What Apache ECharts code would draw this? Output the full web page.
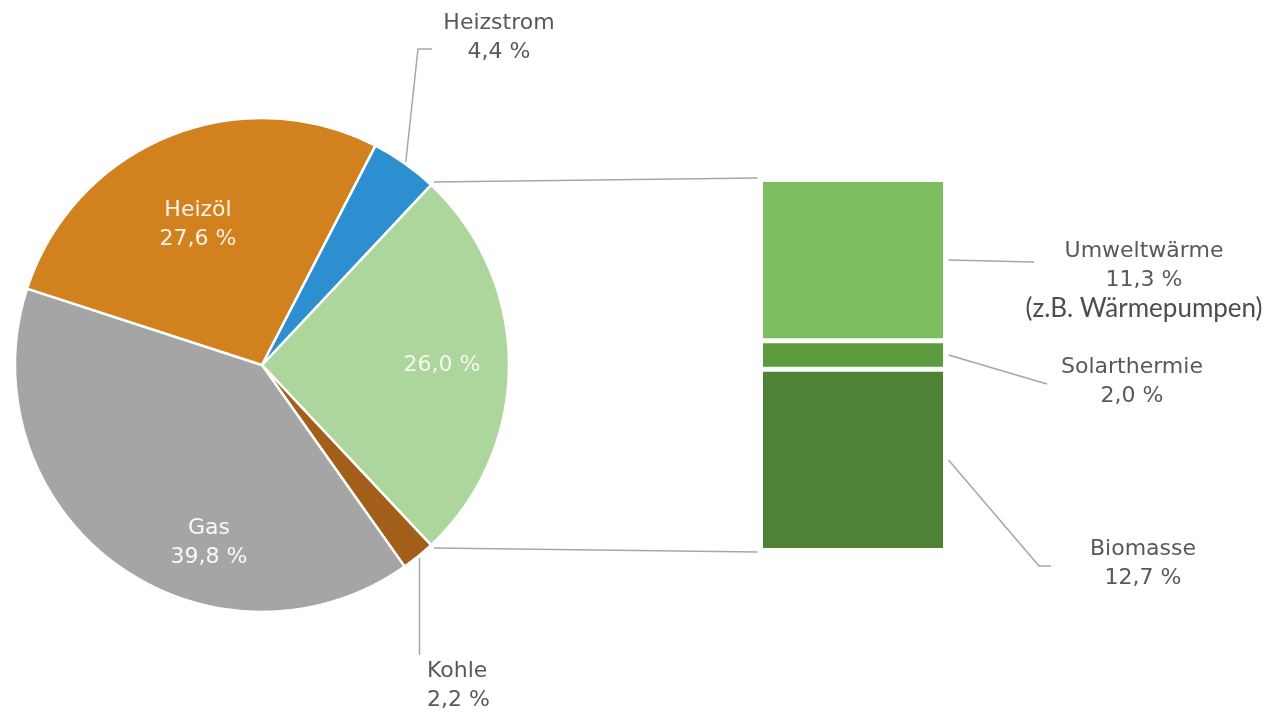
<!DOCTYPE html>
<html>
<head>
<meta charset="utf-8">
<script src="https://cdn.jsdelivr.net/npm/echarts@6/dist/echarts.min.js"></script>
<style>
  html, body { margin: 0; padding: 0; background: #ffffff; }
  #chart { width: 1269px; height: 712px; }
</style>
</head>
<body>
<div id="chart"></div>
<script>
// Energieträger für Wärme – Anteile in %
const pieNames = ['Erneuerbare Energien', 'Kohle', 'Gas', 'Heizöl', 'Heizstrom'];
const pieValues = [26.0, 2.2, 39.8, 27.6, 4.4];
const pieShowName = [false, true, true, true, true];

// Aufteilung der erneuerbaren Energien (gestapelt, von unten nach oben)
const barNames = ['Biomasse', 'Solarthermie', 'Umweltwärme'];
const barValues = [12.7, 2.0, 11.3];
const barNotes = ['', '', '(z.B. Wärmepumpen)'];

// Styles
const pieColors = ['#ADD69D', '#A35F1A', '#A5A5A5', '#D2811F', '#2E8FD0'];
const pieLabelColors = ['#F4F8F0', '#595959', '#FAFAFA', '#FBF3E8', '#595959'];
const barColors = ['#4E8235', '#5C9B3E', '#7CBD5F'];
const TEXT = '#595959';
const LINE = '#A6A6A6';
const FONT = 'DejaVu Sans';

// Layout
const PIE_C = [262, 365];
const PIE_R = 247;
const BAR = { left: 760.5, top: 179.5, width: 185, height: 371 };

const pieLabelPos = [
  [442, 365, 'center'],   // Erneuerbare
  [427, 686, 'left'],     // Kohle
  [209, 543, 'center'],   // Gas
  [198, 225, 'center'],   // Heizöl
  [499, 38, 'center']     // Heizstrom
];
const pieLeaderRest = [
  null,
  [[null, 655]],                 // Kohle: senkrecht nach unten
  null,
  null,
  [[418, 49], [432, 49]]         // Heizstrom
];
const barLabelPos = [[1143, 564], [1132, 382], [1144, 280]];
const barLeaderRest = [
  [[1039, 566], [1051, 566]],
  [[1047, 384]],
  [[1034, 262]]
];

const fmt = v => v.toFixed(1).replace('.', ',') + ' %';
const total = pieValues.reduce((a, b) => a + b, 0);
const barTotal = barValues.reduce((a, b) => a + b, 0);
// Erneuerbare symmetrisch um die Horizontale legen
const startAngle = pieValues[0] / total * 360 / 2;

const chart = echarts.init(document.getElementById('chart'), null, { renderer: 'canvas' });

const pieData = pieNames.map((n, i) => ({
  name: n,
  value: pieValues[i],
  itemStyle: { color: pieColors[i] },
  label: { color: pieLabelColors[i] }
}));

const barSeries = barNames.map((n, i) => ({
  type: 'bar',
  name: n,
  stack: 'ee',
  xAxisIndex: 0,
  yAxisIndex: 0,
  barWidth: '100%',
  data: [barValues[i]],
  itemStyle: { color: barColors[i], borderColor: '#ffffff', borderWidth: 2.5 },
  label: {
    show: true,
    position: 'right',
    formatter: p => '{a|' + p.seriesName + '}\n{a|' + fmt(p.value) + '}' +
      (barNotes[i] ? '\n{b|' + barNotes[i] + '}' : ''),
    rich: {
      a: { fontFamily: FONT, fontSize: 22, color: TEXT, lineHeight: 29, align: 'center' },
      b: { fontFamily: 'Lato', fontSize: 26, color: '#4D4D4D', lineHeight: 29, align: 'center' }
    }
  },
  labelLayout: () => ({
    x: barLabelPos[i][0], y: barLabelPos[i][1],
    align: 'center', verticalAlign: 'middle'
  })
}));

chart.setOption({
  animation: false,
  backgroundColor: '#ffffff',
  grid: { left: BAR.left, top: BAR.top, width: BAR.width, height: BAR.height },
  xAxis: { type: 'category', data: ['EE'], show: false },
  yAxis: { type: 'value', min: 0, max: barTotal, show: false },
  series: [
    {
      type: 'pie',
      center: PIE_C,
      radius: PIE_R,
      startAngle: startAngle,
      clockwise: true,
      data: pieData,
      itemStyle: { borderColor: '#ffffff', borderWidth: 2.5 },
      label: {
        show: true,
        position: 'inside',
        fontFamily: FONT,
        fontSize: 22,
        lineHeight: 29,
        formatter: p => (pieShowName[p.dataIndex] ? p.name + '\n' : '') + fmt(p.value)
      },
      labelLine: { show: false },
      labelLayout: p => {
        const pos = pieLabelPos[p.dataIndex];
        return { x: pos[0], y: pos[1], align: pos[2], verticalAlign: 'middle' };
      },
      emphasis: { disabled: true }
    }
  ].concat(barSeries)
});

// Verbindungs- und Hinweislinien
const lines = [];
const poly = pts => ({
  type: 'polyline',
  silent: true,
  shape: { points: pts },
  style: { stroke: LINE, lineWidth: 1.5, fill: null }
});
const rad = d => d * Math.PI / 180;
const onPie = (angle, r) => [PIE_C[0] + r * Math.cos(rad(angle)), PIE_C[1] - r * Math.sin(rad(angle))];

// Pie -> Balken
const yTop = chart.convertToPixel({ yAxisIndex: 0 }, barTotal);
const yBottom = chart.convertToPixel({ yAxisIndex: 0 }, 0);
lines.push(poly([onPie(startAngle, PIE_R + 4), [BAR.left - 3, yTop - 1.5]]));
lines.push(poly([onPie(-startAngle, PIE_R + 4), [BAR.left - 3, yBottom + 1.5]]));

// Hinweislinien der kleinen Segmente
let acc = startAngle;
pieValues.forEach((v, i) => {
  const span = v / total * 360;
  const mid = acc - span / 2;
  acc -= span;
  if (!pieLeaderRest[i]) return;
  const s = onPie(mid, PIE_R + 2);
  const rest = pieLeaderRest[i].map(p => [p[0] == null ? s[0] : p[0], p[1]]);
  lines.push(poly([s].concat(rest)));
});

// Hinweislinien der Balkensegmente
let cum = 0;
barValues.forEach((v, i) => {
  const yMid = chart.convertToPixel({ yAxisIndex: 0 }, cum + v / 2);
  cum += v;
  lines.push(poly([[BAR.left + BAR.width + 3, yMid]].concat(barLeaderRest[i])));
});

chart.setOption({ graphic: lines });
</script>
</body>
</html>
